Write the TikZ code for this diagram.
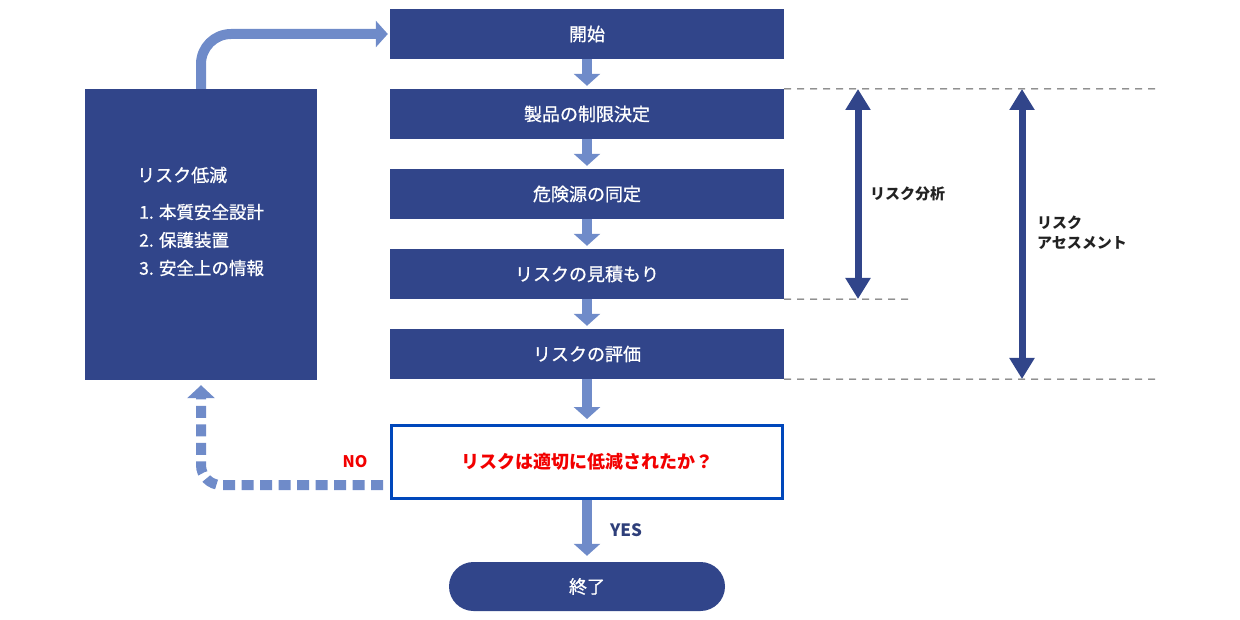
\documentclass[tikz,border=0pt]{standalone}
\usepackage{fontspec}
\setmainfont{Noto Sans CJK JP}
\newfontfamily\medfont[FakeBold=0.8]{Noto Sans CJK JP}
\usetikzlibrary{arrows.meta}
\definecolor{navy}{HTML}{31458A}
\definecolor{lightb}{HTML}{6F8BC9}
\definecolor{decblue}{HTML}{0047BB}
\definecolor{nored}{HTML}{F20000}
\definecolor{labdark}{HTML}{222222}
\definecolor{yesnavy}{HTML}{2E3F7A}
\definecolor{dashgrey}{HTML}{555555}
\tikzset{
  stepbox/.style={fill=navy, draw=none, minimum width=394pt, minimum height=50pt, inner sep=0pt, text=white, font=\medfont\fontsize{18}{20}\selectfont},
  endbox/.style={stepbox, minimum width=276pt, minimum height=49pt, rounded corners=24.5pt},
  decbox/.style={draw=decblue, line width=3pt, fill=white, minimum width=391pt, minimum height=73pt, inner sep=0pt, text=nored, font=\fontsize{18}{20}\selectfont\bfseries},
  leftbox/.style={fill=navy, draw=none, minimum width=232pt, minimum height=291pt, inner sep=0pt},
  lbtext/.style={anchor=west, inner sep=0pt, text=white, font=\medfont\fontsize{17.5}{20}\selectfont},
  flowarrow/.style={draw=lightb, line width=10pt, -{Triangle[width=26pt,length=12pt]}, shorten >=3pt},
  noarrow/.style={draw=lightb, line width=10pt, dash pattern=on 12pt off 6.5pt, rounded corners=20pt, -{Triangle[width=27pt,length=13pt]}, shorten >=5pt},
  dblarrow/.style={draw=navy, line width=7pt, {Triangle[width=24pt,length=21pt]}-{Triangle[width=24pt,length=21pt]}},
  guide/.style={draw=dashgrey, line width=1pt, dash pattern=on 7pt off 6pt},
  rlabel/.style={inner sep=0pt, text=labdark, font=\fontsize{15}{20}\selectfont\bfseries},
}
\begin{document}
\begin{tikzpicture}[x=1pt,y=-1pt]
\useasboundingbox (0,0) rectangle (1240,620);
% main column
\node[stepbox] (s1) at (587,34) {開始};
\node[stepbox] (s2) at (587,114) {製品の制限決定};
\node[stepbox] (s3) at (587,194) {危険源の同定};
\node[stepbox] (s4) at (587,274) {リスクの見積もり};
\node[stepbox] (s5) at (587,354) {リスクの評価};
\node[decbox] (dec) at (587,462) {リスクは適切に低減されたか？};
\node[endbox] (fin) at (587,586.5) {終了};
% left box
\node[leftbox] (lb) at (201,234.5) {};
\node[lbtext, font=\medfont\fontsize{18}{20}\selectfont] (lt) at (137,175) {リスク低減};
\node[lbtext] (l1) at (139,212) {1. 本質安全設計};
\node[lbtext] (l2) at (139,240) {2. 保護装置};
\node[lbtext] (l3) at (139,268) {3. 安全上の情報};
% flow arrows
\draw[flowarrow] (s1.south) -- (s2.north);
\draw[flowarrow] (s2.south) -- (s3.north);
\draw[flowarrow] (s3.south) -- (s4.north);
\draw[flowarrow] (s4.south) -- (s5.north);
\draw[flowarrow, shorten >=5pt] (s5.south) -- (dec.north);
\draw[flowarrow, shorten >=6pt] (dec.south) -- (fin.north);
\node[inner sep=0pt, text=yesnavy, font=\fontsize{17}{20}\selectfont\bfseries] (yes) at (626,530) {YES};
% loop back arrow
\draw[flowarrow, rounded corners=30pt, shorten >=2pt] (lb.north) |- (s1.west);
% NO dashed arrow
\coordinate (nostart) at (383,485);
\draw[noarrow] (nostart) -| (lb.south);
\node[inner sep=0pt, text=nored, font=\fontsize{16}{20}\selectfont\bfseries] (no) at (355,462) {NO};
% guides on the right
\coordinate (g1) at (1155,89);
\coordinate (g2) at (914,299);
\coordinate (g3) at (1155,379);
\draw[guide] (s2.north east) -- (g1);
\draw[guide] (s4.south east) -- (g2);
\draw[guide] (s5.south east) -- (g3);
\coordinate (ra1) at (858,89);
\coordinate (ra2) at (858,299);
\coordinate (rb1) at (1022,89);
\coordinate (rb2) at (1022,379);
\draw[dblarrow] (ra1) -- (ra2);
\draw[dblarrow] (rb1) -- (rb2);
\node[rlabel, anchor=west] (bunseki) at (870,194) {リスク分析};
\node[rlabel, anchor=west] (as1) at (1037,223) {リスク};
\node[rlabel, anchor=west] (as2) at (1037,243) {アセスメント};
\end{tikzpicture}
\end{document}
